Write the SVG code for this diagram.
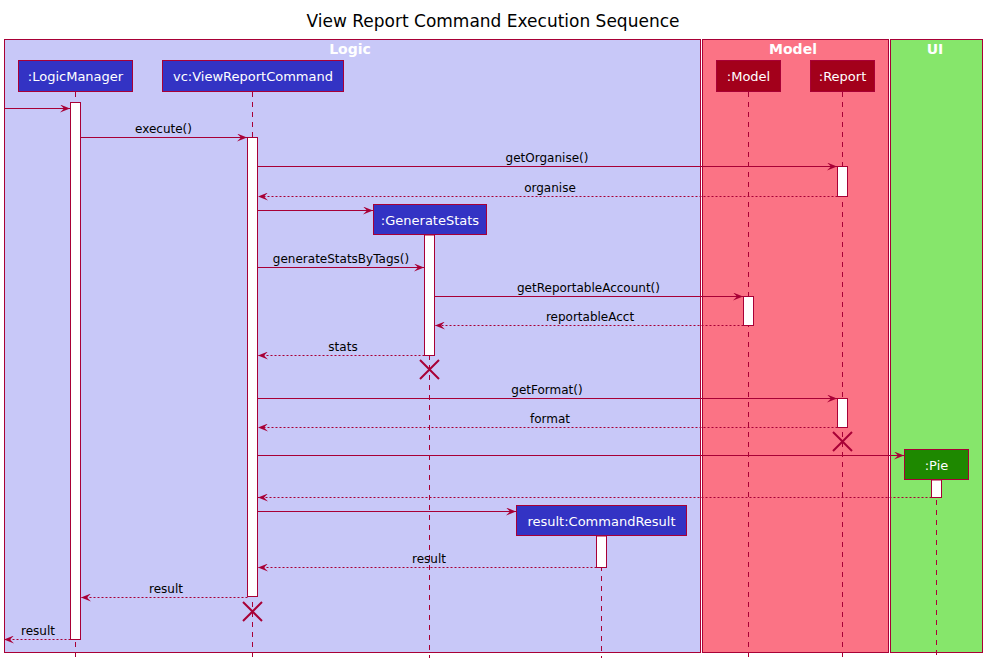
<svg xmlns="http://www.w3.org/2000/svg" width="992" height="669" viewBox="0 0 992 669">
<defs>
<style>
.title{font-family:"DejaVu Sans",sans-serif;font-size:17px;fill:#000;text-anchor:middle}
.grp{font-family:"DejaVu Sans",sans-serif;font-size:14px;font-weight:bold;fill:#fff;text-anchor:middle}
.pt{font-family:"DejaVu Sans",sans-serif;font-size:13px;fill:#fff;text-anchor:middle}
.msg{font-family:"DejaVu Sans",sans-serif;font-size:12px;fill:#000;text-anchor:middle}
.box{stroke:#A80036;stroke-width:1}
.life{stroke:#A80036;stroke-width:1;stroke-dasharray:5,5;fill:none}
.act{fill:#fff;stroke:#A80036;stroke-width:1}
.call{stroke:#A80036;stroke-width:1;fill:none;marker-end:url(#ah)}
.ret{stroke:#A80036;stroke-width:1;fill:none;stroke-dasharray:2,2;marker-end:url(#ah)}
.x{stroke:#A80036;stroke-width:2;fill:none}
</style>
<marker id="ah" viewBox="0 0 10 8" refX="10" refY="4" markerWidth="10" markerHeight="8" markerUnits="userSpaceOnUse" orient="auto">
<path d="M0,0 L10,4 L0,8 L4,4 Z" fill="#A80036"/>
</marker>
</defs>
<rect width="992" height="669" fill="#fff"/>
<text class="title" x="493" y="27">View Report Command Execution Sequence</text>

<g id="box-logic">
<rect x="4.5" y="39.5" width="696" height="613" fill="#C8C8F8" class="box"/>
<text class="grp" x="350" y="54">Logic</text>
</g>
<g id="box-model">
<rect x="702.5" y="39.5" width="186" height="613" fill="#FB7385" class="box"/>
<text class="grp" x="793" y="54">Model</text>
</g>
<g id="box-ui">
<rect x="890.5" y="39.5" width="92" height="613" fill="#86E66B" class="box"/>
<text class="grp" x="935" y="54">UI</text>
</g>

<g id="lifelines">
<line class="life" x1="75.5" y1="92" x2="75.5" y2="658"/>
<line class="life" x1="252.5" y1="92" x2="252.5" y2="658"/>
<line class="life" x1="429.5" y1="235" x2="429.5" y2="658"/>
<line class="life" x1="748.5" y1="92" x2="748.5" y2="658"/>
<line class="life" x1="842.5" y1="92" x2="842.5" y2="658"/>
<line class="life" x1="936.5" y1="480" x2="936.5" y2="658"/>
<line class="life" x1="601.5" y1="536" x2="601.5" y2="658"/>
</g>

<g id="p-logicmanager">
<rect x="18.5" y="60.5" width="114" height="31" fill="#3333C4" class="box"/>
<text class="pt" x="75.5" y="81">:LogicManager</text>
</g>
<g id="p-viewreportcommand">
<rect x="162.5" y="60.5" width="181" height="31" fill="#3333C4" class="box"/>
<text class="pt" x="253" y="81">vc:ViewReportCommand</text>
</g>
<g id="p-generatestats">
<rect x="373.5" y="204.5" width="113" height="30" fill="#3333C4" class="box"/>
<text class="pt" x="430" y="224.5">:GenerateStats</text>
</g>
<g id="p-model">
<rect x="716.5" y="60.5" width="64" height="31" fill="#A3001B" class="box"/>
<text class="pt" x="748.5" y="81">:Model</text>
</g>
<g id="p-report">
<rect x="810.5" y="60.5" width="64" height="31" fill="#A3001B" class="box"/>
<text class="pt" x="842.5" y="81">:Report</text>
</g>
<g id="p-pie">
<rect x="904.5" y="449.5" width="64" height="30" fill="#1E8800" class="box"/>
<text class="pt" x="936.5" y="469.5">:Pie</text>
</g>
<g id="p-commandresult">
<rect x="516.5" y="505.5" width="170" height="30" fill="#3333C4" class="box"/>
<text class="pt" x="601.5" y="525.5">result:CommandResult</text>
</g>

<g id="activations">
<rect class="act" x="70.5" y="102.5" width="10" height="537"/>
<rect class="act" x="247.5" y="137.5" width="10" height="459"/>
<rect class="act" x="837.5" y="166.5" width="10" height="30"/>
<rect class="act" x="424.5" y="235" width="10" height="120.5"/>
<rect class="act" x="743.5" y="296.5" width="10" height="29"/>
<rect class="act" x="837.5" y="398.5" width="10" height="29"/>
<rect class="act" x="931.5" y="480" width="10" height="17.5"/>
<rect class="act" x="596.5" y="536" width="10" height="31.5"/>
</g>

<g id="connectors">
<line class="call" x1="4" y1="108.5" x2="70" y2="108.5"/>
<line class="call" x1="80.5" y1="137.5" x2="247" y2="137.5"/>
<text class="msg" x="163.5" y="133">execute()</text>
<line class="call" x1="257.5" y1="166.5" x2="837" y2="166.5"/>
<text class="msg" x="547" y="162">getOrganise()</text>
<line class="ret" x1="837.5" y1="196.5" x2="258" y2="196.5"/>
<text class="msg" x="550" y="192">organise</text>
<line class="call" x1="257.5" y1="210.5" x2="373" y2="210.5"/>
<line class="call" x1="257.5" y1="267.5" x2="424" y2="267.5"/>
<text class="msg" x="341" y="263">generateStatsByTags()</text>
<line class="call" x1="434.5" y1="296.5" x2="743" y2="296.5"/>
<text class="msg" x="588.5" y="292">getReportableAccount()</text>
<line class="ret" x1="743.5" y1="325.5" x2="435" y2="325.5"/>
<text class="msg" x="590" y="321">reportableAcct</text>
<line class="ret" x1="424.5" y1="355.5" x2="258" y2="355.5"/>
<text class="msg" x="343" y="351">stats</text>
<line class="call" x1="257.5" y1="398.5" x2="837" y2="398.5"/>
<text class="msg" x="547" y="394">getFormat()</text>
<line class="ret" x1="837.5" y1="427.5" x2="258" y2="427.5"/>
<text class="msg" x="550" y="423">format</text>
<line class="call" x1="257.5" y1="455.5" x2="904" y2="455.5"/>
<line class="ret" x1="931.5" y1="497.5" x2="258" y2="497.5"/>
<line class="call" x1="257.5" y1="511.5" x2="516" y2="511.5"/>
<line class="ret" x1="596.5" y1="567.5" x2="258" y2="567.5"/>
<text class="msg" x="429" y="563">result</text>
<line class="ret" x1="247.5" y1="597.5" x2="81" y2="597.5"/>
<text class="msg" x="166" y="593">result</text>
<line class="ret" x1="70.5" y1="639.5" x2="4" y2="639.5"/>
<text class="msg" x="38" y="635">result</text>
</g>

<g id="destroy">
<path class="x" d="M420,360 L439,379 M439,360 L420,379"/>
<path class="x" d="M833,432 L852,451 M852,432 L833,451"/>
<path class="x" d="M243,602 L262,621 M262,602 L243,621"/>
</g>
</svg>
